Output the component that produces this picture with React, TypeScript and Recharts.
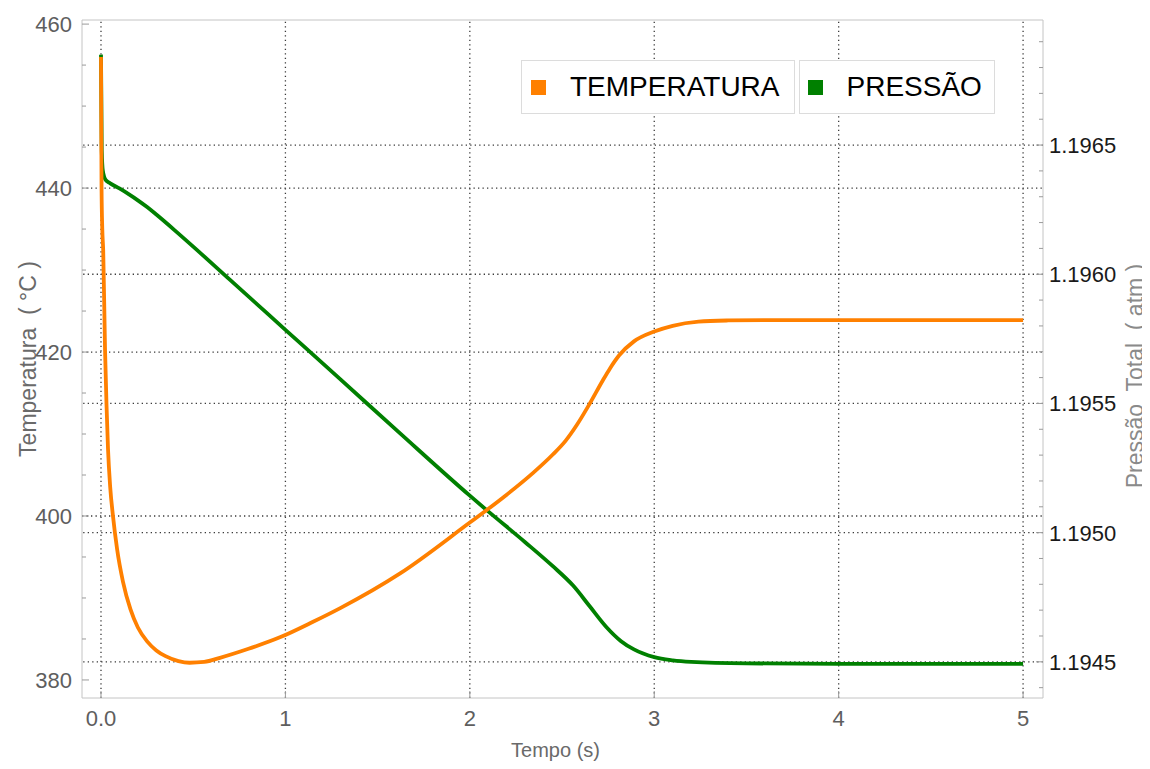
import React from 'react';
import { LineChart, Line, XAxis, YAxis, ReferenceLine, Legend } from 'recharts';

// Time axis (s)
const timeDomain = [-0.103, 5.108];
const timeTicks = [0, 1, 2, 3, 4, 5];
const timeTickLabels = ['0.0', '1', '2', '3', '4', '5'];

// Temperature axis (°C)
const tempDomain = [377.8, 460.5];
const tempMajorTicks = [380, 400, 420, 440, 460];
const tempTickLabels = ['380', '400', '420', '440', '460'];
const tempMinorTicks = [385, 390, 395, 405, 410, 415, 425, 430, 435, 445, 450, 455];
const tempGridValues = [400, 420, 440];

// Pressure axis (atm)
const presDomain = [1.19436, 1.196984];
const presMajorTicks = [1.1945, 1.195, 1.1955, 1.196, 1.1965];
const presTickLabels = ['1.1945', '1.1950', '1.1955', '1.1960', '1.1965'];
const presMinorTicks = [
  1.1944, 1.1946, 1.1947, 1.1948, 1.1949, 1.1951, 1.1952, 1.1953, 1.1954,
  1.1956, 1.1957, 1.1958, 1.1959, 1.1961, 1.1962, 1.1963, 1.1964, 1.1966,
  1.1967, 1.1968, 1.1969,
];

// Temperature profile
const tempTime = [
  0, 0.003, 0.007, 0.012, 0.022, 0.03, 0.038, 0.05, 0.065, 0.087, 0.119, 0.16,
  0.2, 0.25, 0.3, 0.35, 0.42, 0.48, 0.56, 0.645, 0.8, 0.97, 1.15, 1.3, 1.622, 2.0,
  2.09, 2.2, 2.34, 2.45, 2.52, 2.58, 2.65, 2.72, 2.76, 2.81, 2.89, 3.0, 3.1,
  3.24, 3.4, 3.6, 4.0, 5.0,
];
const tempValues = [
  456, 440, 435, 432.4, 420.2, 413.5, 408.2, 403.5, 400.0, 396.0, 392.0, 388.6,
  386.4, 384.7, 383.6, 382.9, 382.3, 382.1, 382.2, 382.7, 383.8, 385.2, 387.1, 388.8, 393.0, 399.2,
  400.7, 402.6, 405.2, 407.5, 409.2, 411.1, 413.7, 416.5, 418.0, 419.6, 421.3, 422.5, 423.2,
  423.7, 423.85, 423.9, 423.9, 423.9,
];

// Total pressure profile
const presTime = [
  0, 0.004, 0.01, 0.025, 0.05, 0.1, 0.15, 0.2, 0.25, 0.3, 0.4, 0.5, 0.7, 1.0,
  1.3, 1.622, 2.0, 2.09, 2.3, 2.45, 2.56, 2.65, 2.74, 2.82, 2.89, 3.0, 3.1,
  3.2, 3.5, 4.0, 5.0,
];
const presValues = [
  1.19685, 1.19648, 1.1964, 1.196365, 1.196352, 1.196332, 1.19631, 1.196286,
  1.19626, 1.196231, 1.19617, 1.196107, 1.195978, 1.195785, 1.195592, 1.195384,
  1.195143, 1.195088, 1.194963, 1.19487, 1.194795, 1.194715, 1.194635, 1.19458,
  1.194548, 1.194518, 1.194506, 1.1945, 1.194494, 1.194492, 1.194492,
];

const seriesNames = ['TEMPERATURA', 'PRESSÃO'];
const seriesColors = ['#ff8000', '#008000'];

const tempData = tempTime.map((t, i) => ({ t, T: tempValues[i] }));
const presData = presTime.map((t, i) => ({ t, P: presValues[i] }));

const FONT = '"Liberation Sans", Arial, sans-serif';
const FRAME = '#c4c4c4';
const GRID = '#3a3a3a';
const TICK_GAP = 10;

const majorIndex = (list: number[], v: number) => list.findIndex((m) => Math.abs(m - v) < 1e-9);

const TempTick = (props: any) => {
  const { x, y, payload } = props;
  const idx = majorIndex(tempMajorTicks, payload.value);
  const ax = x + TICK_GAP;
  return (
    <g>
      <line x1={ax} x2={ax + (idx >= 0 ? 7 : 4)} y1={y} y2={y} stroke="#9a9a9a" strokeWidth={1} />
      {idx >= 0 && (
        <text x={x} y={y} dy="0.36em" textAnchor="end" fontFamily={FONT} fontSize={22} fill="#5e5e5e">
          {tempTickLabels[idx]}
        </text>
      )}
    </g>
  );
};

const PresTick = (props: any) => {
  const { x, y, payload } = props;
  const idx = majorIndex(presMajorTicks, payload.value);
  const ax = x - 6;
  return (
    <g>
      <line x1={ax} x2={ax - (idx >= 0 ? 7 : 4)} y1={y} y2={y} stroke="#9a9a9a" strokeWidth={1} />
      {idx >= 0 && (
        <text x={x} y={y} dy="0.36em" textAnchor="start" fontFamily={FONT} fontSize={22} fill="#1a1a1a">
          {presTickLabels[idx]}
        </text>
      )}
    </g>
  );
};

const TimeTick = (props: any) => {
  const { x, y, payload } = props;
  const idx = majorIndex(timeTicks, payload.value);
  const ay = y - TICK_GAP;
  return (
    <g>
      <line x1={x} x2={x} y1={ay} y2={ay - 7} stroke="#9a9a9a" strokeWidth={1} />
      <text x={x} y={y} dy="0.8em" textAnchor="middle" fontFamily={FONT} fontSize={22} fill="#5e5e5e">
        {timeTickLabels[idx]}
      </text>
    </g>
  );
};

const TempTitle = ({ viewBox }: any) => {
  const cx = viewBox.x + 6;
  const cy = viewBox.y + viewBox.height / 2;
  return (
    <text x={cx} y={cy} transform={`rotate(-90 ${cx} ${cy})`} textAnchor="middle" dominantBaseline="central"
      fontFamily={FONT} fontSize={23} fill="#6a6a6a" style={{ whiteSpace: 'pre' }}>
      {'Temperatura  ( °C )'}
    </text>
  );
};

const PresTitle = ({ viewBox }: any) => {
  const cx = viewBox.x + 92;
  const cy = viewBox.y + viewBox.height / 2 + 17;
  return (
    <text x={cx} y={cy} transform={`rotate(-90 ${cx} ${cy})`} textAnchor="middle" dominantBaseline="central"
      fontFamily={FONT} fontSize={23} fill="#8a8a8a" style={{ whiteSpace: 'pre' }}>
      {'Pressão  Total  ( atm )'}
    </text>
  );
};

const TimeTitle = ({ viewBox }: any) => {
  const cx = viewBox.x + viewBox.width / 2 - 7;
  const cy = viewBox.y + 52;
  return (
    <text x={cx} y={cy} textAnchor="middle" dominantBaseline="central" fontFamily={FONT} fontSize={20} fill="#6a6a6a">
      Tempo (s)
    </text>
  );
};

const LegendBoxes = () => (
  <div style={{ display: 'flex', gap: 4, fontFamily: FONT, fontSize: 28, color: '#000' }}>
    {seriesNames.map((name, i) => (
      <div
        key={name}
        style={{
          display: 'flex',
          alignItems: 'center',
          height: 54,
          padding: i === 0 ? '0 14px 0 9px' : '0 12px 0 8px',
          border: '1px solid #dcdcdc',
          background: '#fff',
          boxSizing: 'border-box',
        }}
      >
        <span style={{ width: 15, height: 15, background: seriesColors[i], marginRight: 24, display: 'inline-block' }} />
        <span style={{ lineHeight: 1 }}>{name}</span>
      </div>
    ))}
  </div>
);

export default function App() {
  return (
    <LineChart width={1142} height={761} margin={{ top: 12, right: 7, bottom: 21, left: 14 }}>
      <XAxis
        dataKey="t"
        type="number"
        domain={timeDomain}
        allowDataOverflow
        ticks={timeTicks}
        interval={0}
        tickSize={0}
        tickLine={false}
        tickMargin={TICK_GAP}
        tick={<TimeTick />}
        axisLine={{ stroke: FRAME }}
        height={50}
        label={<TimeTitle />}
      />
      <YAxis
        yAxisId="temp"
        type="number"
        domain={tempDomain}
        allowDataOverflow
        ticks={[...tempMajorTicks, ...tempMinorTicks].sort((a, b) => a - b)}
        interval={0}
        tickSize={0}
        tickLine={false}
        tickMargin={TICK_GAP}
        tick={<TempTick />}
        axisLine={{ stroke: FRAME }}
        width={60}
        label={<TempTitle />}
      />
      <YAxis
        yAxisId="pres"
        orientation="right"
        type="number"
        domain={presDomain}
        allowDataOverflow
        ticks={[...presMajorTicks, ...presMinorTicks].sort((a, b) => a - b)}
        interval={0}
        tickSize={0}
        tickLine={false}
        tickMargin={6}
        tick={<PresTick />}
        axisLine={{ stroke: FRAME }}
        width={100}
        label={<PresTitle />}
      />
      <ReferenceLine yAxisId="temp" y={tempDomain[1]} stroke={FRAME} ifOverflow="visible" />
      {timeTicks.map((v) => (
        <ReferenceLine key={`gx${v}`} yAxisId="temp" x={v} stroke={GRID} strokeWidth={1.3} strokeDasharray="1.3 3.2" />
      ))}
      {tempGridValues.map((v) => (
        <ReferenceLine key={`gt${v}`} yAxisId="temp" y={v} stroke={GRID} strokeWidth={1.3} strokeDasharray="1.3 3.2" />
      ))}
      {presMajorTicks.map((v) => (
        <ReferenceLine key={`gp${v}`} yAxisId="pres" y={v} stroke={GRID} strokeWidth={1.3} strokeDasharray="1.3 3.2" />
      ))}
      <Line
        yAxisId="pres"
        data={presData}
        dataKey="P"
        type="monotone"
        stroke={seriesColors[1]}
        strokeWidth={3.8}
        dot={false}
        isAnimationActive={false}
      />
      <Line
        yAxisId="temp"
        data={tempData}
        dataKey="T"
        type="monotone"
        stroke={seriesColors[0]}
        strokeWidth={3.8}
        dot={false}
        isAnimationActive={false}
      />
      <Legend
        layout="horizontal"
        verticalAlign="middle"
        align="center"
        content={<LegendBoxes />}
        wrapperStyle={{ left: 513, top: 52, width: 'auto', height: 'auto' }}
      />
    </LineChart>
  );
}
